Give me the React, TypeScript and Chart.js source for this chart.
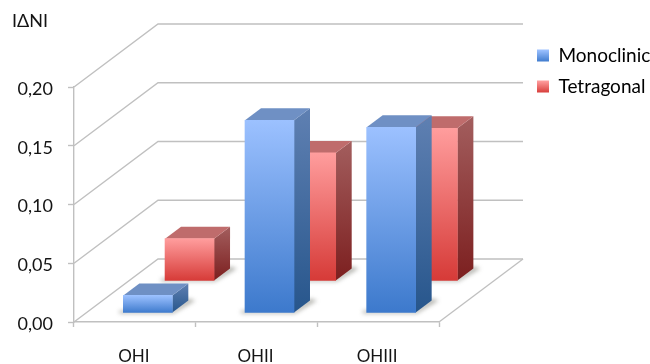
import React, { useEffect, useRef } from "react";
import { Chart, registerables } from "chart.js";

Chart.register(...registerables);

const categories = ["OHI", "OHII", "OHIII"];
const monoclinic = [0.015, 0.164, 0.158];
const tetragonal = [0.036, 0.109, 0.13];
const yTickLabels = ["0,00", "0,05", "0,10", "0,15", "0,20"];

const FONT = "Lato";
const TEXT = "#141414";
const GRID = "#c0c0c0";

// Oblique projection of the chart box and of each bar.
const WALL_DX = 84;
const WALL_DY = -63;
const BAR_DX = 16;
const BAR_DY = -12;

const PALETTE = [
  {
    shift: { x: 13, y: -9 },
    front: ["#9cc1ff", "#3c79cc"],
    side: ["#5f80b2", "#27568c"],
    roof: "#6f90c4",
  },
  {
    shift: { x: 54.7, y: -41 },
    front: ["#ff9d9d", "#d63a37"],
    side: ["#a35e5e", "#7c1f1f"],
    roof: "#bf6c6c",
  },
];

function vGradient(ctx: CanvasRenderingContext2D, y0: number, y1: number, stops: string[]) {
  const g = ctx.createLinearGradient(0, y0, 0, y1);
  g.addColorStop(0, stops[0]);
  g.addColorStop(1, stops[1]);
  return g;
}

function poly(ctx: CanvasRenderingContext2D, pts: number[][], fill: any) {
  ctx.beginPath();
  pts.forEach(([x, y], i) => (i ? ctx.lineTo(x, y) : ctx.moveTo(x, y)));
  ctx.closePath();
  ctx.fillStyle = fill;
  ctx.fill();
}

const frontFill = (seriesIndex: number) => (c: any) => {
  const y = c.chart.scales.y;
  const top = y.getPixelForValue(c.raw ?? 0);
  const base = y.getPixelForValue(0);
  return vGradient(c.chart.ctx, top, base, PALETTE[seriesIndex].front);
};

// Walls and floor of the box, projected from the y scale's tick positions.
const wallsPlugin = {
  id: "walls",
  beforeDatasetsDraw(chart: any) {
    const { ctx, scales, chartArea } = chart;
    ctx.save();
    ctx.strokeStyle = GRID;
    ctx.lineWidth = 1.4;
    scales.y.ticks.forEach((t: any) => {
      const y = scales.y.getPixelForValue(t.value);
      ctx.beginPath();
      ctx.moveTo(chartArea.left, y);
      ctx.lineTo(chartArea.left + WALL_DX, y + WALL_DY);
      ctx.lineTo(chartArea.right + WALL_DX, y + WALL_DY);
      ctx.stroke();
    });
    ctx.beginPath();
    ctx.moveTo(chartArea.right, chartArea.bottom);
    ctx.lineTo(chartArea.right + WALL_DX, chartArea.bottom + WALL_DY);
    ctx.stroke();
    ctx.restore();
  },
};

// Moves each series to its depth row and adds the side, roof and floor shadow.
const extrudePlugin = {
  id: "extrude",
  beforeDatasetDraw(chart: any, args: any) {
    const { ctx } = chart;
    const p = PALETTE[args.index];
    ctx.save();
    ctx.translate(p.shift.x, p.shift.y);
    args.meta.data.forEach((bar: any) => {
      const l = bar.x - bar.width / 2;
      const r = bar.x + bar.width / 2;
      const top = bar.y;
      const base = bar.base;
      ctx.save();
      ctx.filter = "blur(2px)";
      poly(
        ctx,
        [
          [l - 4, base + 1],
          [r + 1, base + 1],
          [r + BAR_DX + 7, base + BAR_DY],
          [r + BAR_DX, base + BAR_DY - 2],
          [r, base - 2],
          [l - 4, base - 2],
        ],
        "rgba(90,90,80,0.45)"
      );
      ctx.restore();
      poly(
        ctx,
        [
          [r, top],
          [r + BAR_DX, top + BAR_DY],
          [r + BAR_DX, base + BAR_DY],
          [r, base],
        ],
        vGradient(ctx, top + BAR_DY, base, p.side)
      );
      poly(
        ctx,
        [
          [l, top],
          [l + BAR_DX, top + BAR_DY],
          [r + BAR_DX, top + BAR_DY],
          [r, top],
        ],
        p.roof
      );
    });
  },
  afterDatasetDraw(chart: any) {
    chart.ctx.restore();
  },
};

// The legend floats beside the plot without taking layout space.
const legendPlacement = {
  id: "legendPlacement",
  afterLayout(chart: any) {
    const lg = chart.legend;
    lg.left = 525;
    lg.right = 650;
    lg.top = 34;
    lg.bottom = 120;
  },
};

export default function App() {
  const ref = useRef<HTMLCanvasElement>(null);

  useEffect(() => {
    const chart = new Chart(ref.current as HTMLCanvasElement, {
      type: "bar",
      data: {
        labels: categories,
        datasets: [
          {
            label: "Monoclinic",
            data: monoclinic,
            backgroundColor: frontFill(0),
            barThickness: 49,
            clip: false,
          },
          {
            label: "Tetragonal",
            data: tetragonal,
            backgroundColor: frontFill(1),
            barThickness: 49,
            clip: false,
          },
        ],
      } as any,
      options: {
        responsive: false,
        animation: false,
        grouped: false,
        events: [],
        layout: { padding: { left: 12, right: 211, top: 0, bottom: 0 } },
        plugins: {
          tooltip: { enabled: false },
          title: {
            display: true,
            text: "IΔNI",
            align: "start",
            color: TEXT,
            font: { family: FONT, size: 18, weight: "normal", lineHeight: 1 },
            padding: { top: 12, bottom: 57 },
          },
          legend: {
            position: "chartArea",
            align: "start",
            labels: {
              boxWidth: 12,
              boxHeight: 12,
              padding: 12,
              color: TEXT,
              font: { family: FONT, size: 19 },
              generateLabels: (c: any) =>
                c.data.datasets.map((d: any, i: number) => ({
                  text: d.label,
                  fillStyle: vGradient(c.ctx, 50 + i * 31, 62 + i * 31, PALETTE[i].front),
                  strokeStyle: "transparent",
                  lineWidth: 0,
                  datasetIndex: i,
                })),
            },
          },
        },
        scales: {
          x: {
            afterFit: (s: any) => {
              s.height = 42;
            },
            border: { color: GRID, width: 1.4 },
            grid: { drawOnChartArea: false, tickColor: GRID, tickLength: 5, tickWidth: 1.4 },
            ticks: {
              color: TEXT,
              padding: 19,
              labelOffset: -1,
              maxRotation: 0,
              font: { family: FONT, size: 17 },
            },
          },
          y: {
            min: 0,
            max: 0.2,
            afterFit: (s: any) => {
              s.width = 62;
            },
            border: { color: GRID, width: 1.4 },
            grid: { drawOnChartArea: false, tickColor: GRID, tickLength: 6, tickWidth: 1.4 },
            ticks: {
              stepSize: 0.05,
              color: TEXT,
              padding: 15,
              labelOffset: 2,
              font: { family: FONT, size: 18 },
              callback: (_v: any, i: number) => yTickLabels[i],
            },
          },
        },
      } as any,
      plugins: [wallsPlugin, extrudePlugin, legendPlacement] as any,
    });
    return () => chart.destroy();
  }, []);

  return (
    <div style={{ position: "fixed", left: 0, top: 0, background: "#fff" }}>
      <canvas ref={ref} width={650} height={364} style={{ display: "block" }} />
    </div>
  );
}
